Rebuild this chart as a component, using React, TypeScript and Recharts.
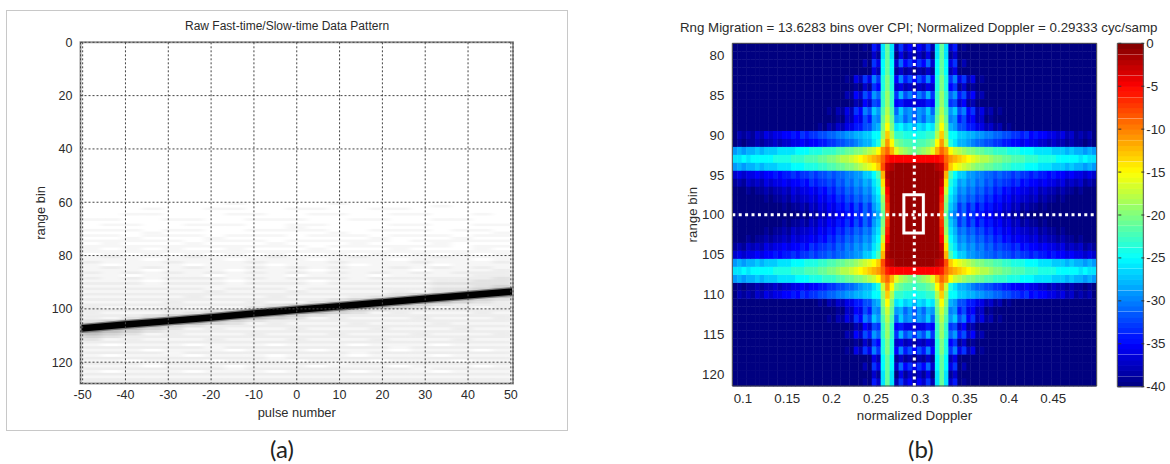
import React from 'react';
import { ScatterChart, Scatter, XAxis, YAxis, CartesianGrid, ReferenceArea, ReferenceLine } from 'recharts';

const FONT = '"Liberation Sans", Arial, sans-serif';
const TEXT = '#2b2b2b';

// (a) raw data
const pulseTicks = [-50, -40, -30, -20, -10, 0, 10, 20, 30, 40, 50];
const rangeTicksA = [0, 20, 40, 60, 80, 100, 120];
const clutterPulses = [-48.1, -43.3, -38.5, -33.7, -28.9, -24, -19.2, -14.4, -9.6, -4.8, 0, 4.8, 9.6, 14.4, 19.2, 24, 28.9, 33.7, 38.5, 43.3, 48.1];
const clutterFirstBin = 60;
// one string per range bin, one digit per pulse column: grey level
const clutterRows = [
  '000000010000100000000', '000000000000000001000', '000100110011001100000', '000000000000000000000',
  '001100011001100110010', '000000000000000000000', '110011001110011001100', '000000000000000000000',
  '011001110011000110011', '000000000010000000000', '111011001111001110110', '000100000000100000001',
  '110111011101110111011', '001000100000001000100', '111110111011111011111', '010001000100010001000',
  '111111111110111111011', '101010010001000100010', '111111111111111111111', '010101010100101010101',
  '121112111211121112111', '111011101110111011101', '211121112111211121112', '101110111011101110111',
  '121212112121211212121', '111011101110111101112', '212121212121212121222', '110111011101110111122',
  '212122212122212222223', '111011101110111112233', '222122212221222223333', '111111111111111112234',
  '222222122212222223345', '111111211121111213456', '222222222222222345676', '111112111211123456765',
  '222222222222345676543', '111121112113456765432', '222222222345676543222', '211121113456765431212',
  '222222345676543222222', '211123456765431211121', '222345676543222222222', '213456765431211121112',
  '345676543222222222222', '456765431211121112111', '676543222222222222222', '765431211121112111211',
  '654322222222222222222', '543121112111211121112', '432222222222222222222', '312111211121112111211',
  '222222222222222222222', '101110111011101110111', '222222122222222122222', '111011101110111011101',
  '222212222222212222222', '101110111011101110111', '222222222122222222222', '110111011101110111011',
  '222122222222122222222', '111011101110111011101', '222222212222222212222', '101110111011101110111',
  '222222222222222222222', '111111111111111111111', '222222222222222222222', '222222222222222222222',
];
const clutterGreys = ['#ffffff', '#f6f6f6', '#ededed', '#e2e2e2', '#d4d4d4', '#c0c0c0', '#a4a4a4', '#808080'];
const trailPulses = [-50.5, -40, -30, -20, -10, 0, 10, 20, 30, 40, 50.5];
const trailBins = [107.4, 105.9, 104.6, 103.2, 101.7, 100.3, 99.0, 97.6, 96.2, 94.9, 93.5];

// (b) range-Doppler map, dB. Upper left quadrant only, the map is mirrored about
// range bin 100 and about the target Doppler
const dopplerTicks = [0.1, 0.15, 0.2, 0.25, 0.3, 0.35, 0.4, 0.45];
const rangeTicksB = [80, 85, 90, 95, 100, 105, 110, 115, 120];
const targetDoppler = 0.2933;
const targetBin = 100;
const boxDoppler = [0.2815, 0.3035];
const boxBins = [97.5, 102.3];
const rangeBins = [79, 80, 81, 82, 83, 84, 85, 86, 87, 88, 89, 90, 91, 92, 93, 94, 95, 96, 97, 98, 99, 100];
const dopplerOffsets = [
  0.2024, 0.1973, 0.1923, 0.1872, 0.1822, 0.1771, 0.172, 0.167, 0.1619, 0.1569, 0.1518, 0.1467, 0.1417, 0.1366,
  0.1316, 0.1265, 0.1214, 0.1164, 0.1113, 0.1063, 0.1012, 0.0961, 0.0911, 0.086, 0.081, 0.0759, 0.0708, 0.0658,
  0.0607, 0.0557, 0.0506, 0.0455, 0.0405, 0.0354, 0.0304, 0.0253, 0.0202, 0.0152, 0.0101, 0.0051, 0,
];
const powerRows = [
  [-40,-40,-40,-40,-40,-40,-40,-40,-40,-40,-40,-40,-40,-40,-40,-40,-40,-40,-40,-40, -40,-40,-40,-40,-40,-40,-40,-40,-40,-39,-40,-34,-37,-26,-21,-26,-38,-33,-37,-35,-38],
  [-40,-40,-40,-40,-40,-40,-40,-40,-40,-40,-40,-40,-40,-40,-40,-40,-40,-40,-40,-40, -40,-40,-40,-40,-40,-40,-40,-40,-40,-40,-40,-37,-39,-26,-21,-26,-40,-36,-39,-37,-39],
  [-40,-40,-40,-40,-40,-40,-40,-40,-40,-40,-40,-40,-40,-40,-40,-40,-40,-40,-40,-40, -40,-40,-40,-40,-40,-40,-40,-40,-40,-38,-40,-33,-36,-25,-21,-25,-37,-31,-35,-33,-36],
  [-40,-40,-40,-40,-40,-40,-40,-40,-40,-40,-40,-40,-40,-40,-40,-40,-40,-40,-40,-40, -40,-40,-40,-40,-40,-40,-40,-40,-40,-40,-40,-36,-38,-25,-21,-25,-39,-37,-39,-38,-40],
  [-40,-40,-40,-40,-40,-40,-40,-40,-40,-40,-40,-40,-40,-40,-40,-40,-40,-40,-40,-40, -40,-40,-40,-40,-40,-39,-40,-36,-38,-33,-36,-30,-33,-24,-20,-24,-35,-30,-34,-32,-35],
  [-40,-40,-40,-40,-40,-40,-40,-40,-40,-40,-40,-40,-40,-40,-40,-40,-40,-40,-40,-40, -40,-40,-40,-40,-40,-40,-40,-39,-40,-37,-39,-33,-35,-24,-20,-24,-37,-36,-38,-37,-39],
  [-40,-40,-40,-40,-40,-40,-40,-40,-40,-40,-40,-40,-40,-40,-40,-40,-40,-40,-40,-40, -40,-40,-40,-40,-40,-38,-39,-35,-37,-32,-34,-29,-31,-23,-19,-23,-33,-28,-32,-30,-33],
  [-40,-40,-40,-40,-40,-40,-40,-40,-40,-40,-40,-40,-40,-40,-40,-40,-40,-40,-40,-40, -40,-40,-40,-40,-40,-40,-40,-38,-39,-35,-37,-32,-33,-23,-19,-23,-35,-34,-36,-36,-37],
  [-40,-40,-40,-40,-40,-40,-40,-40,-40,-40,-40,-40,-40,-40,-40,-40,-40,-40,-40,-40, -40,-39,-40,-38,-39,-36,-38,-33,-35,-30,-32,-27,-29,-22,-18,-22,-31,-27,-30,-29,-31],
  [-40,-40,-40,-40,-40,-40,-40,-40,-40,-40,-40,-40,-40,-40,-40,-40,-40,-40,-40,-40, -40,-40,-40,-39,-40,-37,-38,-35,-36,-32,-34,-29,-30,-21,-17,-21,-29,-28,-31,-29,-32],
  [-40,-40,-40,-40,-40,-40,-40,-40,-40,-40,-40,-40,-40,-40,-40,-40,-40,-40,-40,-39, -40,-38,-39,-37,-38,-36,-36,-34,-34,-32,-32,-29,-28,-20,-15,-20,-26,-25,-27,-26,-28],
  [-40,-38,-39,-38,-39,-37,-38,-36,-37,-36,-36,-35,-35,-34,-35,-33,-34,-33,-33,-32, -32,-31,-31,-30,-30,-29,-29,-28,-28,-27,-27,-25,-25,-19,-13,-18,-23,-23,-24,-24,-25],
  [-40,-39,-40,-39,-39,-38,-39,-38,-38,-37,-38,-37,-37,-36,-36,-35,-36,-35,-35,-34, -34,-33,-33,-32,-32,-31,-31,-30,-29,-28,-28,-26,-24,-17,-11,-15,-20,-21,-22,-22,-23],
  [-29,-28,-29,-28,-28,-27,-28,-27,-27,-27,-26,-26,-26,-26,-25,-25,-25,-24,-24,-24, -23,-23,-23,-22,-22,-21,-21,-20,-20,-19,-18,-17,-15,-11,-9,-12,-16,-18,-19,-20,-21],
  [-26,-26,-25,-26,-25,-25,-25,-25,-25,-24,-24,-24,-24,-23,-23,-23,-22,-22,-22,-21, -21,-20,-20,-19,-18,-18,-17,-16,-15,-14,-13,-12,-11,-9,-6,-5,-5,-5,-5,-5,-5],
  [-29,-28,-29,-28,-28,-27,-28,-27,-27,-27,-26,-26,-26,-25,-25,-25,-24,-24,-24,-23, -23,-22,-22,-21,-21,-20,-20,-19,-18,-17,-16,-15,-13,-8,-3,-2,-1,-1,-1,-1,-1],
  [-37,-36,-37,-36,-36,-35,-36,-35,-35,-34,-35,-34,-34,-33,-34,-33,-33,-32,-33,-32, -32,-31,-32,-31,-31,-30,-30,-29,-29,-27,-27,-25,-22,-12,-2,-1,-1,-1,-1,-1,-1],
  [-39,-38,-39,-37,-38,-37,-38,-36,-37,-36,-36,-35,-36,-35,-35,-34,-35,-33,-34,-33, -33,-32,-33,-31,-32,-30,-31,-29,-30,-28,-29,-26,-24,-14,-3,-1,-1,-1,-1,-1,-1],
  [-40,-40,-40,-39,-40,-39,-39,-38,-39,-38,-38,-37,-38,-36,-37,-36,-36,-35,-36,-34, -35,-33,-34,-32,-33,-31,-32,-30,-31,-29,-30,-27,-25,-17,-5,-1,-1,-1,-1,-1,-1],
  [-40,-40,-40,-40,-40,-40,-40,-39,-40,-39,-39,-38,-39,-37,-38,-37,-37,-36,-37,-35, -36,-34,-35,-33,-34,-32,-33,-31,-32,-30,-31,-28,-26,-19,-6,-1,-1,-1,-1,-1,-1],
  [-40,-40,-40,-40,-40,-40,-40,-40,-40,-40,-40,-39,-40,-39,-39,-38,-39,-37,-38,-36, -37,-35,-36,-34,-35,-33,-35,-32,-34,-31,-33,-29,-27,-20,-7,-1,-1,-1,-1,-1,-1],
  [-40,-40,-40,-40,-40,-40,-40,-40,-40,-40,-40,-40,-40,-40,-40,-39,-40,-38,-39,-37, -38,-36,-37,-35,-36,-34,-35,-33,-34,-31,-33,-30,-28,-21,-8,-1,-1,-1,-1,-1,-1],
];
const colorbarTicks = [-40, -35, -30, -25, -20, -15, -10, -5, 0];
const colorbarLevels = [
  -39.7, -39.1, -38.4, -37.8, -37.2, -36.6, -35.9, -35.3, -34.7, -34.1, -33.4, -32.8, -32.2, -31.6, -30.9, -30.3,
  -29.7, -29.1, -28.4, -27.8, -27.2, -26.6, -25.9, -25.3, -24.7, -24.1, -23.4, -22.8, -22.2, -21.6, -20.9, -20.3,
  -19.7, -19.1, -18.4, -17.8, -17.2, -16.6, -15.9, -15.3, -14.7, -14.1, -13.4, -12.8, -12.2, -11.6, -10.9, -10.3,
  -9.7, -9.1, -8.4, -7.8, -7.2, -6.6, -5.9, -5.3, -4.7, -4.1, -3.4, -2.8, -2.2, -1.6, -0.9, -0.3,
];

function jetColor(db: number) {
  const t = (db + 40) / 40;
  const ch = (up: number, down: number) => Math.round(255 * Math.max(0, Math.min(1, 4 * t + up, -4 * t + down)));
  return `rgb(${ch(-1.5, 4.5)},${ch(-0.5, 3.5)},${ch(0.5, 2.5)})`;
}

const clutterCells = clutterRows.flatMap((row, r) =>
  clutterPulses.map((pulse, c) => ({ x: pulse, y: clutterFirstBin + r + 0.5, fill: clutterGreys[Number(row[c])] })),
);
const trailPoints = trailPulses.map((x, i) => ({ x, y: trailBins[i] }));

const heatCells = rangeBins.flatMap((bin, r) => {
  const rows = bin === targetBin ? [bin] : [bin, 2 * targetBin - bin];
  return rows.flatMap((y) =>
    dopplerOffsets.flatMap((off, c) => {
      const xs = off === 0 ? [targetDoppler] : [targetDoppler - off, targetDoppler + off];
      return xs.map((x) => ({ x, y, fill: jetColor(powerRows[r][c]) }));
    }),
  );
});
const colorbarCells = colorbarLevels.map((y) => ({ x: 0.5, y, fill: jetColor(y) }));

const cellShape = (w: number, h: number) => (p: any) => (
  <rect x={p.cx - w / 2} y={p.cy - h / 2} width={w + 0.4} height={h + 0.4} fill={p.payload.fill} />
);
const NoDot = () => null;

const tickStyleA = { fontSize: 12.5, fill: TEXT, fontFamily: FONT };
const tickStyleB = { fontSize: 13.3, fill: TEXT, fontFamily: FONT };
const labelStyleA = { fontSize: 12.9, fill: TEXT, fontFamily: FONT };
const labelStyleB = { fontSize: 13.3, fill: TEXT, fontFamily: FONT };

function ColorbarTick({ x, y, payload }: any) {
  return (
    <g>
      <line x1={x - 28} x2={x - 25} y1={y} y2={y} stroke="#333" />
      <line x1={x - 5} x2={x - 2} y1={y} y2={y} stroke="#333" />
      <text x={x} y={y + 4.5} fontSize={13.3} fill={TEXT} fontFamily={FONT}>
        {payload.value}
      </text>
    </g>
  );
}

function RawDataChart() {
  return (
    <ScatterChart width={580} height={440} margin={{ top: 42.3, right: 67, bottom: 20.5, left: 30 }}>
      <XAxis
        type="number"
        dataKey="x"
        domain={[-50.5, 50.5]}
        ticks={pulseTicks}
        interval={0}
        height={36}
        tickLine={false}
        axisLine={false}
        tickMargin={1}
        tick={tickStyleA}
        label={{ value: 'pulse number', position: 'insideBottom', offset: 3, style: labelStyleA }}
      />
      <YAxis
        type="number"
        dataKey="y"
        reversed
        domain={[0, 128]}
        ticks={rangeTicksA}
        interval={0}
        width={50.5}
        tickLine={false}
        axisLine={false}
        tickMargin={2}
        tick={tickStyleA}
        label={{ value: 'range bin', angle: -90, position: 'insideLeft', offset: 10.5, style: { ...labelStyleA, textAnchor: 'middle' } }}
      />
      <Scatter className="streaks" data={clutterCells} shape={cellShape(20.6, 2.7)} isAnimationActive={false} />
      <Scatter data={trailPoints} line={{ stroke: '#777', strokeWidth: 9 }} shape={NoDot} isAnimationActive={false} />
      <Scatter data={trailPoints} line={{ stroke: '#000', strokeWidth: 6.5 }} shape={NoDot} isAnimationActive={false} />
      <ReferenceArea x1={-50.5} x2={50.5} y1={0} y2={128} fill="none" stroke="#999" strokeWidth={2} zIndex={1000} />
      <CartesianGrid stroke="#444" strokeDasharray="2 2" zIndex={1100} />
    </ScatterChart>
  );
}

function RangeDopplerChart() {
  return (
    <ScatterChart width={468} height={440} margin={{ top: 43.3, right: 3.3, bottom: 18, left: 32.3 }}>
      <XAxis
        type="number"
        dataKey="x"
        domain={[0.088, 0.499]}
        ticks={dopplerTicks}
        interval={0}
        height={36}
        tickLine={false}
        axisLine={false}
        tickMargin={2}
        tick={tickStyleB}
        label={{ value: 'normalized Doppler', position: 'insideBottom', offset: 2, style: labelStyleB }}
      />
      <YAxis
        type="number"
        dataKey="y"
        reversed
        domain={[78.5, 121.5]}
        ticks={rangeTicksB}
        interval={0}
        width={68}
        tickLine={false}
        axisLine={false}
        tickMargin={2}
        tick={tickStyleB}
        label={{ value: 'range bin', angle: -90, position: 'insideLeft', offset: 27.7, style: { ...labelStyleB, textAnchor: 'middle' } }}
      />
      <Scatter className="soft" data={heatCells} shape={cellShape(4.5, 8)} isAnimationActive={false} />
      <ReferenceLine x={targetDoppler} stroke="#fff" strokeWidth={3} strokeDasharray="3 3.4" zIndex={1000} />
      <ReferenceLine y={targetBin} stroke="#fff" strokeWidth={3} strokeDasharray="3 3.4" zIndex={1000} />
      <ReferenceArea
        x1={boxDoppler[0]}
        x2={boxDoppler[1]}
        y1={boxBins[0]}
        y2={boxBins[1]}
        fill="none"
        stroke="#fff"
        strokeWidth={3}
        zIndex={1100}
      />
      <ReferenceArea x1={0.088} x2={0.499} y1={78.5} y2={121.5} fill="none" stroke="#444" zIndex={1100} />
    </ScatterChart>
  );
}

function ColorbarChart() {
  return (
    <ScatterChart width={60} height={400} margin={{ top: 43.3, right: 0, bottom: 13.3, left: 7.3 }}>
      <XAxis type="number" dataKey="x" domain={[0, 1]} hide />
      <YAxis
        type="number"
        dataKey="y"
        orientation="right"
        domain={[-40, 0]}
        ticks={colorbarTicks}
        interval={0}
        width={26.7}
        tickLine={false}
        axisLine={false}
        tickSize={0}
        tickMargin={3}
        tick={<ColorbarTick />}
      />
      <Scatter className="soft" data={colorbarCells} shape={cellShape(26, 5.4)} isAnimationActive={false} />
      <ReferenceArea x1={0} x2={1} y1={-40} y2={0} fill="none" stroke="#555" zIndex={1100} />
    </ScatterChart>
  );
}

const abs = (left: number, top: number): React.CSSProperties => ({ position: 'absolute', left, top });

export default function App() {
  return (
    <div style={{ position: 'absolute', left: 0, top: 0, width: 1170, height: 464, background: '#fff', overflow: 'hidden', fontFamily: FONT }}>
      <style>{`.soft{filter:url(#softCells)}.streaks{filter:url(#softStreaks)}`}</style>
      <svg width={0} height={0} style={{ position: 'absolute' }}>
        <defs>
          <filter id="softCells" x="0" y="0" width="100%" height="100%">
            <feGaussianBlur stdDeviation="0.7" />
          </filter>
          <filter id="softStreaks" x="0" y="0" width="100%" height="100%">
            <feGaussianBlur stdDeviation="3 0.4" />
          </filter>
        </defs>
      </svg>
      <div style={{ ...abs(6, 10), width: 560, height: 419, border: '1px solid #c8c8c8' }} />
      <div style={{ ...abs(0, 0) }}><RawDataChart /></div>
      <div style={{ ...abs(632, 0) }}><RangeDopplerChart /></div>
      <div style={{ ...abs(1110, 0) }}><ColorbarChart /></div>
      <div style={{ ...abs(185, 19), fontSize: 12, color: TEXT, whiteSpace: 'nowrap' }}>Raw Fast-time/Slow-time Data Pattern</div>
      <div style={{ ...abs(680, 20), fontSize: 13.3, color: TEXT, whiteSpace: 'nowrap' }}>
        Rng Migration = 13.6283 bins over CPI; Normalized Doppler = 0.29333 cyc/samp
      </div>
      <div style={{ ...abs(270, 436), fontSize: 24, lineHeight: '26px', color: '#222', fontFamily: 'Lato', whiteSpace: 'nowrap' }}>(a)</div>
      <div style={{ ...abs(908, 436), fontSize: 24, lineHeight: '26px', color: '#222', fontFamily: 'Lato', whiteSpace: 'nowrap' }}>(b)</div>
    </div>
  );
}
